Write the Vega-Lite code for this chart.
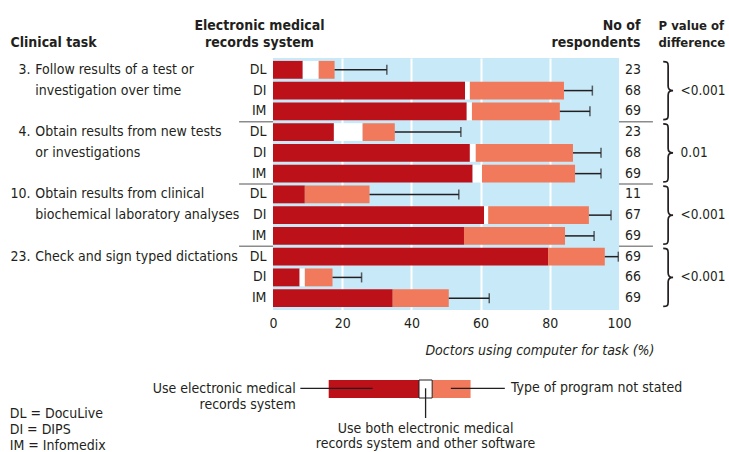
{
  "$schema": "https://vega.github.io/schema/vega-lite/v6.json",
  "autosize": {"type": "none"},
  "padding": {"left": 273, "top": 58, "right": 456, "bottom": 394},
  "background": "#ffffff",
  "bounds": "flush",
  "spacing": 62,
  "config": {
    "font": "DejaVu Sans Condensed, sans-serif",
    "view": {"stroke": null},
    "text": {"fontSize": 14, "color": "#231f20"},
    "axis": {"labelFont": "DejaVu Sans Condensed, sans-serif", "titleFont": "DejaVu Sans Condensed, sans-serif", "labelColor": "#231f20", "titleColor": "#231f20"}
  },
  "vconcat": [
    {
      "width": 346,
      "height": 252,
      "view": {"fill": "#c7e9f8", "stroke": null},
      "data": {"values": [
        {"task": 3, "system": "DL", "key": "3-DL", "n": 23, "emr": 8.6, "both": 13.2, "ns": 17.8, "ci": 32.9, "num": "3.", "label": "Follow results of a test or", "p": ""},
        {"task": 3, "system": "DI", "key": "3-DI", "n": 68, "emr": 55.5, "both": 56.9, "ns": 84.1, "ci": 92.3, "num": "", "label": "investigation over time", "p": "<0.001"},
        {"task": 3, "system": "IM", "key": "3-IM", "n": 69, "emr": 56.0, "both": 57.5, "ns": 82.9, "ci": 91.6, "num": "", "label": "", "p": ""},
        {"task": 4, "system": "DL", "key": "4-DL", "n": 23, "emr": 17.6, "both": 25.9, "ns": 35.2, "ci": 54.3, "num": "4.", "label": "Obtain results from new tests", "p": ""},
        {"task": 4, "system": "DI", "key": "4-DI", "n": 68, "emr": 56.9, "both": 58.6, "ns": 86.7, "ci": 94.8, "num": "", "label": "or investigations", "p": "0.01"},
        {"task": 4, "system": "IM", "key": "4-IM", "n": 69, "emr": 57.7, "both": 60.4, "ns": 87.3, "ci": 94.8, "num": "", "label": "", "p": ""},
        {"task": 10, "system": "DL", "key": "10-DL", "n": 11, "emr": 9.2, "both": 9.2, "ns": 27.9, "ci": 53.7, "num": "10.", "label": "Obtain results from clinical", "p": ""},
        {"task": 10, "system": "DI", "key": "10-DI", "n": 67, "emr": 61.0, "both": 62.2, "ns": 91.3, "ci": 97.7, "num": "", "label": "biochemical laboratory analyses", "p": "<0.001"},
        {"task": 10, "system": "IM", "key": "10-IM", "n": 69, "emr": 55.2, "both": 55.2, "ns": 84.4, "ci": 92.8, "num": "", "label": "", "p": ""},
        {"task": 23, "system": "DL", "key": "23-DL", "n": 69, "emr": 79.5, "both": 79.5, "ns": 95.9, "ci": 99.8, "num": "23.", "label": "Check and sign typed dictations", "p": ""},
        {"task": 23, "system": "DI", "key": "23-DI", "n": 66, "emr": 7.7, "both": 9.2, "ns": 17.2, "ci": 25.6, "num": "", "label": "", "p": "<0.001"},
        {"task": 23, "system": "IM", "key": "23-IM", "n": 69, "emr": 34.6, "both": 34.6, "ns": 50.8, "ci": 62.5, "num": "", "label": "", "p": ""}
      ]},
      "resolve": {"axis": {"x": "independent", "y": "independent"}},
      "layer": [
        {
          "mark": {"type": "bar", "color": "#bd111a"},
          "encoding": {
            "x": {"field": "emr", "type": "quantitative", "stack": null, "scale": {"domain": [0, 100]},
              "axis": {"orient": "bottom", "values": [0, 20, 40, 60, 80, 100], "domain": false, "ticks": false, "tickSize": 0, "labelPadding": 6, "labelFlush": false, "labelFontSize": 14, "grid": true, "gridColor": "#ffffff", "gridWidth": 2, "gridOpacity": {"condition": {"test": "datum.value == 0 || datum.value == 100", "value": 0}, "value": 1},
                "title": "Doctors using computer for task (%)", "titleFontStyle": "italic", "titleFontWeight": "normal", "titleFontSize": 14, "titleAlign": "right", "titleAnchor": "end", "titleX": 381, "titleY": 44, "titleBaseline": "alphabetic"}},
            "y": {"field": "key", "type": "nominal", "scale": {"type": "band", "domain": ["3-DL", "3-DI", "3-IM", "4-DL", "4-DI", "4-IM", "10-DL", "10-DI", "10-IM", "23-DL", "23-DI", "23-IM"], "paddingInner": 0.14, "paddingOuter": 0.14},
              "axis": {"orient": "left", "labelExpr": "split(datum.value, '-')[1]", "domain": false, "ticks": false, "tickSize": 0, "labelPadding": 7, "labelFontSize": 14,
                "title": ["Electronic medical", "records system"], "titleAngle": 0, "titleAlign": "center", "titleX": -14, "titleY": -29, "titleBaseline": "alphabetic", "titleFontSize": 14, "titleFontWeight": "bold", "titleLineHeight": 17}}
          }
        },
        {
          "mark": {"type": "bar", "color": "#ffffff"},
          "encoding": {
            "x": {"field": "emr", "type": "quantitative",
              "axis": {"orient": "top", "labels": false, "ticks": false, "domain": false, "grid": false,
                "title": ["P value of", "difference"], "titleAngle": 0, "titleAlign": "left", "titleAnchor": "start", "titleX": 385, "titleY": -29, "titleBaseline": "alphabetic", "titleFontSize": 13, "titleFontWeight": "bold", "titleLineHeight": 17}},
            "x2": {"field": "both"},
            "y": {"field": "key", "type": "nominal", "axis": null}
          }
        },
        {
          "mark": {"type": "bar", "color": "#f27a5c"},
          "encoding": {
            "x": {"field": "both", "type": "quantitative", "axis": null},
            "x2": {"field": "ns"},
            "y": {"field": "key", "type": "nominal",
              "axis": {"orient": "right", "labels": false, "ticks": false, "domain": false, "grid": false,
                "title": ["No of", "respondents"], "titleAngle": 0, "titleAlign": "right", "titleAnchor": "end", "titleX": 21, "titleY": -29, "titleBaseline": "alphabetic", "titleFontSize": 14, "titleFontWeight": "bold", "titleLineHeight": 17}}
          }
        },
        {
          "mark": {"type": "rule", "color": "#231f20", "strokeWidth": 1.5},
          "encoding": {
            "x": {"field": "ns", "type": "quantitative", "axis": null},
            "x2": {"field": "ci"},
            "y": {"field": "key", "type": "nominal",
              "axis": {"orient": "left", "labels": false, "ticks": false, "domain": false, "grid": false,
                "title": "Clinical task", "titleAngle": 0, "titleAlign": "left", "titleAnchor": "start", "titleX": -263, "titleY": -12, "titleBaseline": "alphabetic", "titleFontSize": 14, "titleFontWeight": "bold"}}
          }
        },
        {
          "mark": {"type": "tick", "orient": "vertical", "color": "#231f20", "size": 10, "thickness": 1.5},
          "encoding": {
            "x": {"field": "ci", "type": "quantitative", "axis": null},
            "y": {"field": "key", "type": "nominal", "axis": null}
          }
        },
        {
          "transform": [{"filter": "datum.system == 'DL' && datum.task != 3"}],
          "mark": {"type": "rule", "color": "#8c8c8c", "strokeWidth": 1.5, "yOffset": -1.5},
          "encoding": {
            "x": {"datum": -9.8, "type": "quantitative", "axis": null},
            "x2": {"datum": 0},
            "y": {"field": "key", "type": "nominal", "bandPosition": 0, "axis": null}
          }
        },
        {
          "transform": [{"filter": "datum.system == 'DL' && datum.task != 3"}],
          "mark": {"type": "rule", "color": "#8c8c8c", "strokeWidth": 1.5, "yOffset": -1.5},
          "encoding": {
            "x": {"datum": 100, "type": "quantitative", "axis": null},
            "x2": {"datum": 109.8},
            "y": {"field": "key", "type": "nominal", "bandPosition": 0, "axis": null}
          }
        },
        {
          "mark": {"type": "text", "align": "left", "baseline": "middle", "fontSize": 14},
          "encoding": {
            "x": {"datum": 101.7, "type": "quantitative", "axis": null},
            "y": {"field": "key", "type": "nominal", "axis": null},
            "text": {"field": "n", "type": "nominal"}
          }
        },
        {
          "transform": [{"filter": "datum.system == 'DI'"}],
          "mark": {"type": "point", "shape": "M -0.17 -1 C -0.03 -1 0 -0.97 0 -0.86 L 0 -0.16 C 0 -0.05 0.05 0 0.17 0 C 0.05 0 0 0.05 0 0.16 L 0 0.86 C 0 0.97 -0.03 1 -0.17 1", "filled": false, "color": "#231f20", "strokeWidth": 1.7, "size": 3364, "opacity": 1},
          "encoding": {
            "x": {"datum": 114.2, "type": "quantitative", "axis": null},
            "y": {"field": "key", "type": "nominal", "axis": null}
          }
        },
        {
          "transform": [{"filter": "datum.p != ''"}],
          "mark": {"type": "text", "align": "left", "baseline": "middle", "fontSize": 13.5},
          "encoding": {
            "x": {"datum": 117.8, "type": "quantitative", "axis": null},
            "y": {"field": "key", "type": "nominal", "axis": null},
            "text": {"field": "p", "type": "nominal"}
          }
        },
        {
          "transform": [{"filter": "datum.num != ''"}],
          "mark": {"type": "text", "align": "right", "baseline": "middle", "fontSize": 14},
          "encoding": {
            "x": {"datum": -70.1, "type": "quantitative", "axis": null},
            "y": {"field": "key", "type": "nominal", "axis": null},
            "text": {"field": "num", "type": "nominal"}
          }
        },
        {
          "transform": [{"filter": "datum.label != ''"}],
          "mark": {"type": "text", "align": "left", "baseline": "middle", "fontSize": 14},
          "encoding": {
            "x": {"datum": -68.7, "type": "quantitative", "axis": null},
            "y": {"field": "key", "type": "nominal", "axis": null},
            "text": {"field": "label", "type": "nominal"}
          }
        }
      ]
    },
    {
      "width": 346,
      "height": 80,
      "view": {"stroke": null},
      "data": {"values": [{"item": "legend"}]},
      "layer": [
        {
          "mark": {"type": "rect", "color": "#bd111a"},
          "encoding": {
            "x": {"datum": 16.1, "type": "quantitative", "scale": {"domain": [0, 100]}, "axis": null},
            "x2": {"datum": 42.2},
            "y": {"datum": 8, "type": "quantitative", "scale": {"domain": [0, 80], "reverse": true}, "axis": null},
            "y2": {"datum": 26}
          }
        },
        {
          "mark": {"type": "rect", "color": "#f27a5c"},
          "encoding": {
            "x": {"datum": 46, "type": "quantitative", "axis": null},
            "x2": {"datum": 57.1},
            "y": {"datum": 8, "type": "quantitative", "axis": null},
            "y2": {"datum": 26}
          }
        },
        {
          "mark": {"type": "rect", "fill": "#ffffff", "stroke": "#231f20", "strokeWidth": 1},
          "encoding": {
            "x": {"datum": 42.2, "type": "quantitative", "axis": null},
            "x2": {"datum": 46},
            "y": {"datum": 8, "type": "quantitative", "axis": null},
            "y2": {"datum": 26}
          }
        },
        {
          "mark": {"type": "rule", "color": "#231f20", "strokeWidth": 1.3},
          "encoding": {
            "x": {"datum": 7.9, "type": "quantitative", "axis": null},
            "x2": {"datum": 28.8},
            "y": {"datum": 16.3, "type": "quantitative", "axis": null}
          }
        },
        {
          "mark": {"type": "rule", "color": "#231f20", "strokeWidth": 1.3},
          "encoding": {
            "x": {"datum": 51.4, "type": "quantitative", "axis": null},
            "x2": {"datum": 67.0},
            "y": {"datum": 16.3, "type": "quantitative", "axis": null}
          }
        },
        {
          "mark": {"type": "rule", "color": "#231f20", "strokeWidth": 1.3},
          "encoding": {
            "x": {"datum": 44.1, "type": "quantitative", "axis": null},
            "y": {"datum": 16.3, "type": "quantitative", "axis": null},
            "y2": {"datum": 46}
          }
        },
        {
          "mark": {"type": "text", "align": "right", "baseline": "alphabetic", "fontSize": 14, "lineHeight": 16, "text": ["Use electronic medical", "records system"]},
          "encoding": {
            "x": {"datum": 6.6, "type": "quantitative", "axis": null},
            "y": {"datum": 21.3, "type": "quantitative", "axis": null}
          }
        },
        {
          "mark": {"type": "text", "align": "left", "baseline": "middle", "fontSize": 14, "text": "Type of program not stated"},
          "encoding": {
            "x": {"datum": 68.8, "type": "quantitative", "axis": null},
            "y": {"datum": 16.3, "type": "quantitative", "axis": null}
          }
        },
        {
          "mark": {"type": "text", "align": "center", "baseline": "alphabetic", "fontSize": 14, "lineHeight": 15, "text": ["Use both electronic medical", "records system and other software"]},
          "encoding": {
            "x": {"datum": 44.1, "type": "quantitative", "axis": null},
            "y": {"datum": 61, "type": "quantitative", "axis": null}
          }
        },
        {
          "mark": {"type": "text", "align": "left", "baseline": "alphabetic", "fontSize": 14, "lineHeight": 16, "text": ["DL = DocuLive", "DI = DIPS", "IM = Infomedix"]},
          "encoding": {
            "x": {"datum": -76.1, "type": "quantitative", "axis": null},
            "y": {"datum": 46.3, "type": "quantitative", "axis": null}
          }
        }
      ]
    }
  ]
}
